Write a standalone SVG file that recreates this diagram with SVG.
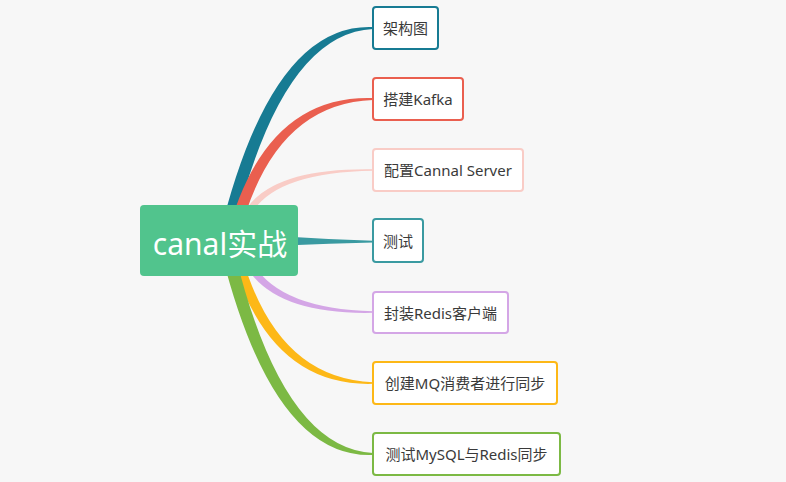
<svg xmlns="http://www.w3.org/2000/svg" width="786" height="482" viewBox="0 0 786 482">
<defs>
<style>
.bg{fill:#f7f7f7}
.box{fill:#ffffff;stroke-width:2}
.lbl{font-family:"Noto Sans","Noto Sans CJK SC",sans-serif;font-size:15px;fill:#3a3a3a;text-anchor:middle}
.root-lbl{font-family:"Noto Sans","Noto Sans CJK SC",sans-serif;font-size:30px;fill:#ffffff;text-anchor:middle}
</style>
</defs>
<rect class="bg" x="0" y="0" width="786" height="482"/>
<g id="connectors">
<path fill="#177b93" d="M 218.7 238.5 Q 270.7 22.5 373 27 L 373 29 Q 279.3 33.5 231.3 241.5 Z"/>
<path fill="#ea5f4f" d="M 226.2 238.6 Q 263.3 94.3 373 98 L 373 100 Q 270.7 103.7 237.8 241.4 Z"/>
<path fill="#f9ccc6" d="M 236 239.7 Q 242.3 167.1 373 169.2 L 373 170.8 Q 247.7 172.9 244 240.3 Z"/>
<path fill="#3a9aa1" d="M 285 236.5 Q 330 239.5 373 240.8 L 373 242.5 Q 330 243.5 285 245.5 Z"/>
<path fill="#d4a6e6" d="M 243.9 239.2 Q 257.8 308.5 373 311.2 L 373 312.8 Q 252.2 315.5 236.1 240.8 Z"/>
<path fill="#fdb817" d="M 237.3 238.7 Q 270.4 378.7 373 382.2 L 373 383.8 Q 263.6 387.3 226.7 241.3 Z"/>
<path fill="#7cb944" d="M 231.3 238.5 Q 279.4 448.5 373 453 L 373 455 Q 270.7 459.5 218.7 241.5 Z"/>
</g>
<g id="root">
<rect x="140" y="205" width="158" height="71" rx="4" fill="#51c48d"/>
<text class="root-lbl" x="220" y="254.5">canal实战</text>
</g>
<g id="node1">
<rect class="box" x="373" y="7" width="65" height="42" rx="3" stroke="#177b93"/>
<text class="lbl" x="405.5" y="34">架构图</text>
</g>
<g id="node2">
<rect class="box" x="373" y="78" width="90" height="42" rx="3" stroke="#ea5f4f"/>
<text class="lbl" x="418" y="105">搭建Kafka</text>
</g>
<g id="node3">
<rect class="box" x="373" y="149" width="150" height="42" rx="3" stroke="#f9ccc6"/>
<text class="lbl" x="448" y="176">配置Cannal Server</text>
</g>
<g id="node4">
<rect class="box" x="373" y="219" width="50" height="43" rx="3" stroke="#3a9aa1"/>
<text class="lbl" x="398" y="246.5">测试</text>
</g>
<g id="node5">
<rect class="box" x="373" y="292" width="135" height="41" rx="3" stroke="#d4a6e6"/>
<text class="lbl" x="440.5" y="318.5">封装Redis客户端</text>
</g>
<g id="node6">
<rect class="box" x="373" y="362" width="184" height="42" rx="3" stroke="#fdb817"/>
<text class="lbl" x="465" y="389">创建MQ消费者进行同步</text>
</g>
<g id="node7">
<rect class="box" x="373" y="433" width="187" height="42" rx="3" stroke="#7cb944"/>
<text class="lbl" x="466.5" y="460">测试MySQL与Redis同步</text>
</g>
</svg>
